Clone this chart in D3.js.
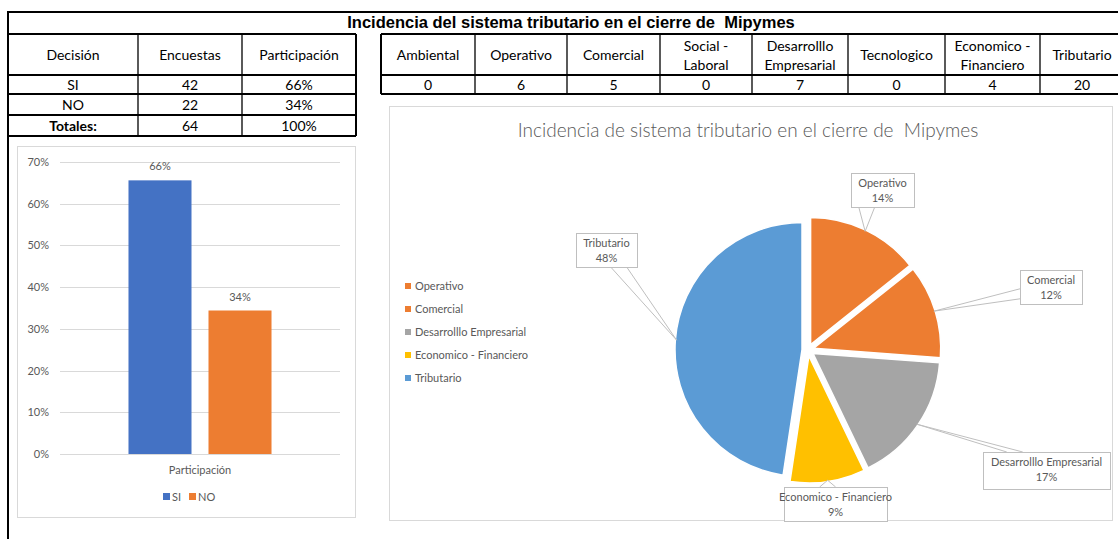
<!DOCTYPE html>
<html>
  <head>
    <meta charset="utf-8">
    <script src="https://d3js.org/d3.v7.min.js"></script>
    <title>Incidencia del sistema tributario</title>
    <style type="text/css">
      body { margin: 0; background: #fff; }
      svg { display: block; }
      .cell { font-family: Lato, "Open Sans", sans-serif; font-size: 14px; fill: #000; }
      .gray { font-family: Lato, "Open Sans", sans-serif; fill: #595959; }
      .axis text { font-family: Lato, sans-serif; font-size: 11px; fill: #595959; }
    </style>
  </head>
  <body>
    <div id="chart"></div>
    <script type="text/javascript">
      // tabla izquierda / grafico de barras
      var decisiones = ["SI", "NO"],
          encuestas = [42, 22],
          participacion = [0.656, 0.344],
          totalEncuestas = 64,
          totalParticipacion = 1;

      // tabla derecha / grafico de torta
      var factores = ["Ambiental", "Operativo", "Comercial", "Social - Laboral",
                      "Desarrolllo Empresarial", "Tecnologico", "Economico - Financiero", "Tributario"],
          encabezados = [["Ambiental"], ["Operativo"], ["Comercial"], ["Social -", "Laboral"],
                         ["Desarrolllo", "Empresarial"], ["Tecnologico"], ["Economico -", "Financiero"], ["Tributario"]],
          conteos = [0, 6, 5, 0, 7, 0, 4, 20];

      // porcentajes tal como aparecen en las etiquetas de la torta
      var etiquetasPct = [0, 0.14, 0.12, 0, 0.17, 0, 0.09, 0.48];

      var yTicks = [0, 0.1, 0.2, 0.3, 0.4, 0.5, 0.6, 0.7];

      var W = 1118, H = 539;
      var pct = d3.format(".0%");

      var svg = d3.select("#chart").append("svg")
          .attr("width", W)
          .attr("height", H);

      // ---- marco de la hoja y titulo ----
      svg.append("line").attr("x1", 8).attr("y1", 12).attr("x2", W).attr("y2", 12)
        .attr("stroke", "#000").attr("stroke-width", 2);
      svg.append("line").attr("x1", 8).attr("y1", 11).attr("x2", 8).attr("y2", H)
        .attr("stroke", "#000").attr("stroke-width", 2);
      svg.append("text")
        .attr("x", 571).attr("y", 28)
        .attr("text-anchor", "middle")
        .style("font-family", "'Liberation Sans', Arial, sans-serif")
        .style("font-weight", "bold").style("font-size", "16.5px")
        .style("white-space", "pre")
        .text("Incidencia del sistema tributario en el cierre de  Mipymes");

      function grid(g, xs, ys, thick) {
        // lineas de la tabla
        xs.forEach(function(x, i) {
          var outer = i === 0 || i === xs.length - 1;
          g.append("line").attr("x1", x).attr("x2", x)
            .attr("y1", ys[0]).attr("y2", ys[ys.length - 1])
            .attr("stroke", "#000").attr("stroke-width", outer ? thick : 1.3);
        });
        ys.forEach(function(y) {
          g.append("line").attr("y1", y).attr("y2", y)
            .attr("x1", xs[0]).attr("x2", xs[xs.length - 1])
            .attr("stroke", "#000").attr("stroke-width", thick);
        });
      }

      // ---- tabla izquierda ----
      var tLeft = svg.append("g");
      var lxs = [8, 138, 242, 356], lys = [34, 75, 94, 115, 136];
      grid(tLeft, lxs, lys, 2);
      var leftRows = [["Decisión", "Encuestas", "Participación"]];
      decisiones.forEach(function(d, i) {
        leftRows.push([d, encuestas[i], pct(participacion[i])]);
      });
      leftRows.push(["Totales:", totalEncuestas, pct(totalParticipacion)]);
      leftRows.forEach(function(row, r) {
        row.forEach(function(v, c) {
          tLeft.append("text").attr("class", "cell")
            .attr("x", (lxs[c] + lxs[c + 1]) / 2)
            .attr("y", (lys[r] + lys[r + 1]) / 2 + 5)
            .attr("text-anchor", "middle")
            .style("font-weight", r === 3 && c === 0 ? "bold" : "normal")
            .text(v);
        });
      });

      // ---- tabla derecha ----
      var tRight = svg.append("g");
      var rxs = [381, 475, 567, 660, 752, 848, 945, 1040, 1124], rys = [34, 75, 94];
      grid(tRight, rxs, rys, 2);
      encabezados.forEach(function(lines, c) {
        var cx = (rxs[c] + rxs[c + 1]) / 2;
        lines.forEach(function(t, k) {
          tRight.append("text").attr("class", "cell")
            .attr("x", cx)
            .attr("y", lines.length === 1 ? 60 : 51 + k * 19)
            .attr("text-anchor", "middle")
            .text(t);
        });
        tRight.append("text").attr("class", "cell")
          .attr("x", cx).attr("y", 89.5)
          .attr("text-anchor", "middle")
          .text(conteos[c]);
      });

      // ---- grafico de barras ----
      var bar = svg.append("g");
      bar.append("rect").attr("x", 17.5).attr("y", 146.5).attr("width", 338).attr("height", 371)
        .attr("fill", "#fff").attr("stroke", "#d9d9d9");

      var y = d3.scaleLinear().domain([0, 0.7]).range([454, 162]);
      var x0 = d3.scaleBand().domain(["Participación"]).range([60, 340]);
      var x1 = d3.scaleBand().domain(decisiones).range([0, x0.bandwidth()])
          .paddingInner(0.2125).paddingOuter(0.856);
      var barColor = d3.scaleOrdinal().domain(decisiones).range(["#4472C4", "#ED7D31"]);

      bar.append("g").selectAll("line")
        .data(yTicks)
        .enter().append("line")
          .attr("x1", 60).attr("x2", 340)
          .attr("y1", function(d) { return Math.round(y(d)) + 0.5; })
          .attr("y2", function(d) { return Math.round(y(d)) + 0.5; })
          .attr("stroke", "#d9d9d9");

      var yAxis = bar.append("g").attr("class", "axis")
        .attr("transform", "translate(49,0)")
        .call(d3.axisLeft(y).tickValues(yTicks).tickFormat(pct).tickSize(0).tickPadding(0));
      yAxis.select(".domain").remove();

      bar.append("g").selectAll("rect")
        .data(decisiones)
        .enter().append("rect")
          .attr("x", function(d) { return x0("Participación") + x1(d); })
          .attr("y", function(d, i) { return y(participacion[i]); })
          .attr("width", x1.bandwidth())
          .attr("height", function(d, i) { return y(0) - y(participacion[i]); })
          .attr("fill", function(d) { return barColor(d); });

      bar.append("g").selectAll("text")
        .data(decisiones)
        .enter().append("text").attr("class", "gray")
          .attr("x", function(d) { return x0("Participación") + x1(d) + x1.bandwidth() / 2; })
          .attr("y", function(d, i) { return y(participacion[i]) - 10; })
          .attr("text-anchor", "middle")
          .style("font-size", "11px")
          .text(function(d, i) { return pct(participacion[i]); });

      bar.append("text").attr("class", "gray")
        .attr("x", x0("Participación") + x0.bandwidth() / 2).attr("y", 474)
        .attr("text-anchor", "middle").style("font-size", "11px")
        .text("Participación");

      var barLeg = bar.append("g").selectAll("g")
        .data(decisiones)
        .enter().append("g")
          .attr("transform", function(d, i) { return "translate(163," + 493 + ")translate(" + (i * 26) + ",0)"; });
      barLeg.append("rect").attr("width", 7).attr("height", 7)
        .attr("fill", function(d) { return barColor(d); });
      barLeg.append("text").attr("class", "gray")
        .attr("x", 9).attr("y", 7.5).style("font-size", "11px")
        .text(function(d) { return d; });

      // ---- grafico de torta ----
      var pieG = svg.append("g");
      pieG.append("rect").attr("x", 389.5).attr("y", 106.5).attr("width", 723).attr("height", 414)
        .attr("fill", "#fff").attr("stroke", "#d9d9d9");
      pieG.append("text").attr("class", "gray")
        .attr("x", 748).attr("y", 137)
        .attr("text-anchor", "middle")
        .style("font-size", "19px").style("font-weight", 300)
        .style("white-space", "pre")
        .text("Incidencia de sistema tributario en el cierre de  Mipymes");

      var pieColors = {
        "Operativo": "#ED7D31",
        "Comercial": "#ED7D31",
        "Desarrolllo Empresarial": "#A5A5A5",
        "Economico - Financiero": "#FFC000",
        "Tributario": "#5B9BD5"
      };
      var slices = factores
        .map(function(f, i) { return { nombre: f, valor: conteos[i], etiqueta: etiquetasPct[i] }; })
        .filter(function(d) { return d.valor > 0; });

      var cx = 808, cy = 350, radius = 127, explode = 6;
      var arcs = d3.pie().sort(null).value(function(d) { return d.valor; })(slices);
      var arc = d3.arc().innerRadius(0).outerRadius(radius);

      function offset(d, r) {
        var a = (d.startAngle + d.endAngle) / 2;
        return [Math.sin(a) * r, -Math.cos(a) * r];
      }

      pieG.append("g").attr("transform", "translate(" + cx + "," + cy + ")")
        .selectAll("path")
        .data(arcs)
        .enter().append("path")
          .attr("d", arc)
          .attr("transform", function(d) { var o = offset(d, explode); return "translate(" + o[0] + "," + o[1] + ")"; })
          .attr("fill", function(d) { return pieColors[d.data.nombre]; })
          .attr("stroke", "#fff").attr("stroke-width", 1.5);

      // etiquetas con llamada
      var cajas = {
        "Operativo": { x: 851, y: 173, w: 63, h: 34, lado: "abajo" },
        "Comercial": { x: 1020, y: 270, w: 62, h: 34, lado: "izq" },
        "Desarrolllo Empresarial": { x: 983, y: 452, w: 127, h: 37, lado: "arriba" },
        "Economico - Financiero": { x: 784, y: 487, w: 103, h: 34, lado: "arriba" },
        "Tributario": { x: 576, y: 233, w: 61, h: 34, lado: "abajo" }
      };

      var calls = pieG.append("g").selectAll("g")
        .data(arcs)
        .enter().append("g");

      calls.append("path")
        .attr("d", function(d) {
          var b = cajas[d.data.nombre];
          var o = offset(d, explode + radius * 0.99);
          var px = cx + o[0], py = cy + o[1];
          var p1, p2, c;
          if (b.lado === "abajo" || b.lado === "arriba") {
            var ey = b.lado === "abajo" ? b.y + b.h : b.y;
            c = Math.max(b.x + b.w * 0.25, Math.min(b.x + b.w * 0.7, px));
            p1 = [c - 8, ey]; p2 = [c + 8, ey];
          } else {
            var ex = b.lado === "izq" ? b.x : b.x + b.w;
            c = Math.max(b.y + b.h * 0.3, Math.min(b.y + b.h * 0.7, py));
            p1 = [ex, c - 5]; p2 = [ex, c + 5];
          }
          return "M" + p1 + "L" + [px, py] + "L" + p2;
        })
        .attr("fill", "#fff").attr("stroke", "#bfbfbf").attr("stroke-width", 1);

      calls.append("rect")
        .attr("x", function(d) { return cajas[d.data.nombre].x + 0.5; })
        .attr("y", function(d) { return cajas[d.data.nombre].y + 0.5; })
        .attr("width", function(d) { return cajas[d.data.nombre].w; })
        .attr("height", function(d) { return cajas[d.data.nombre].h; })
        .attr("fill", "#fff").attr("stroke", "#bfbfbf");

      calls.append("text").attr("class", "gray")
        .attr("x", function(d) { var b = cajas[d.data.nombre]; return b.x + b.w / 2; })
        .attr("y", function(d) { return cajas[d.data.nombre].y + 14; })
        .attr("text-anchor", "middle").style("font-size", "11px")
        .text(function(d) { return d.data.nombre; });
      calls.append("text").attr("class", "gray")
        .attr("x", function(d) { var b = cajas[d.data.nombre]; return b.x + b.w / 2; })
        .attr("y", function(d) { return cajas[d.data.nombre].y + 29; })
        .attr("text-anchor", "middle").style("font-size", "11px")
        .text(function(d) { return pct(d.data.etiqueta); });

      // leyenda
      var pieLeg = pieG.append("g").selectAll("g")
        .data(slices)
        .enter().append("g")
          .attr("transform", function(d, i) { return "translate(405," + (282 + i * 23) + ")"; });
      pieLeg.append("rect").attr("y", 1).attr("width", 6).attr("height", 6)
        .attr("fill", function(d) { return pieColors[d.nombre]; });
      pieLeg.append("text").attr("class", "gray")
        .attr("x", 10).attr("y", 8).style("font-size", "11px")
        .text(function(d) { return d.nombre; });
    </script>
  </body>
</html>
